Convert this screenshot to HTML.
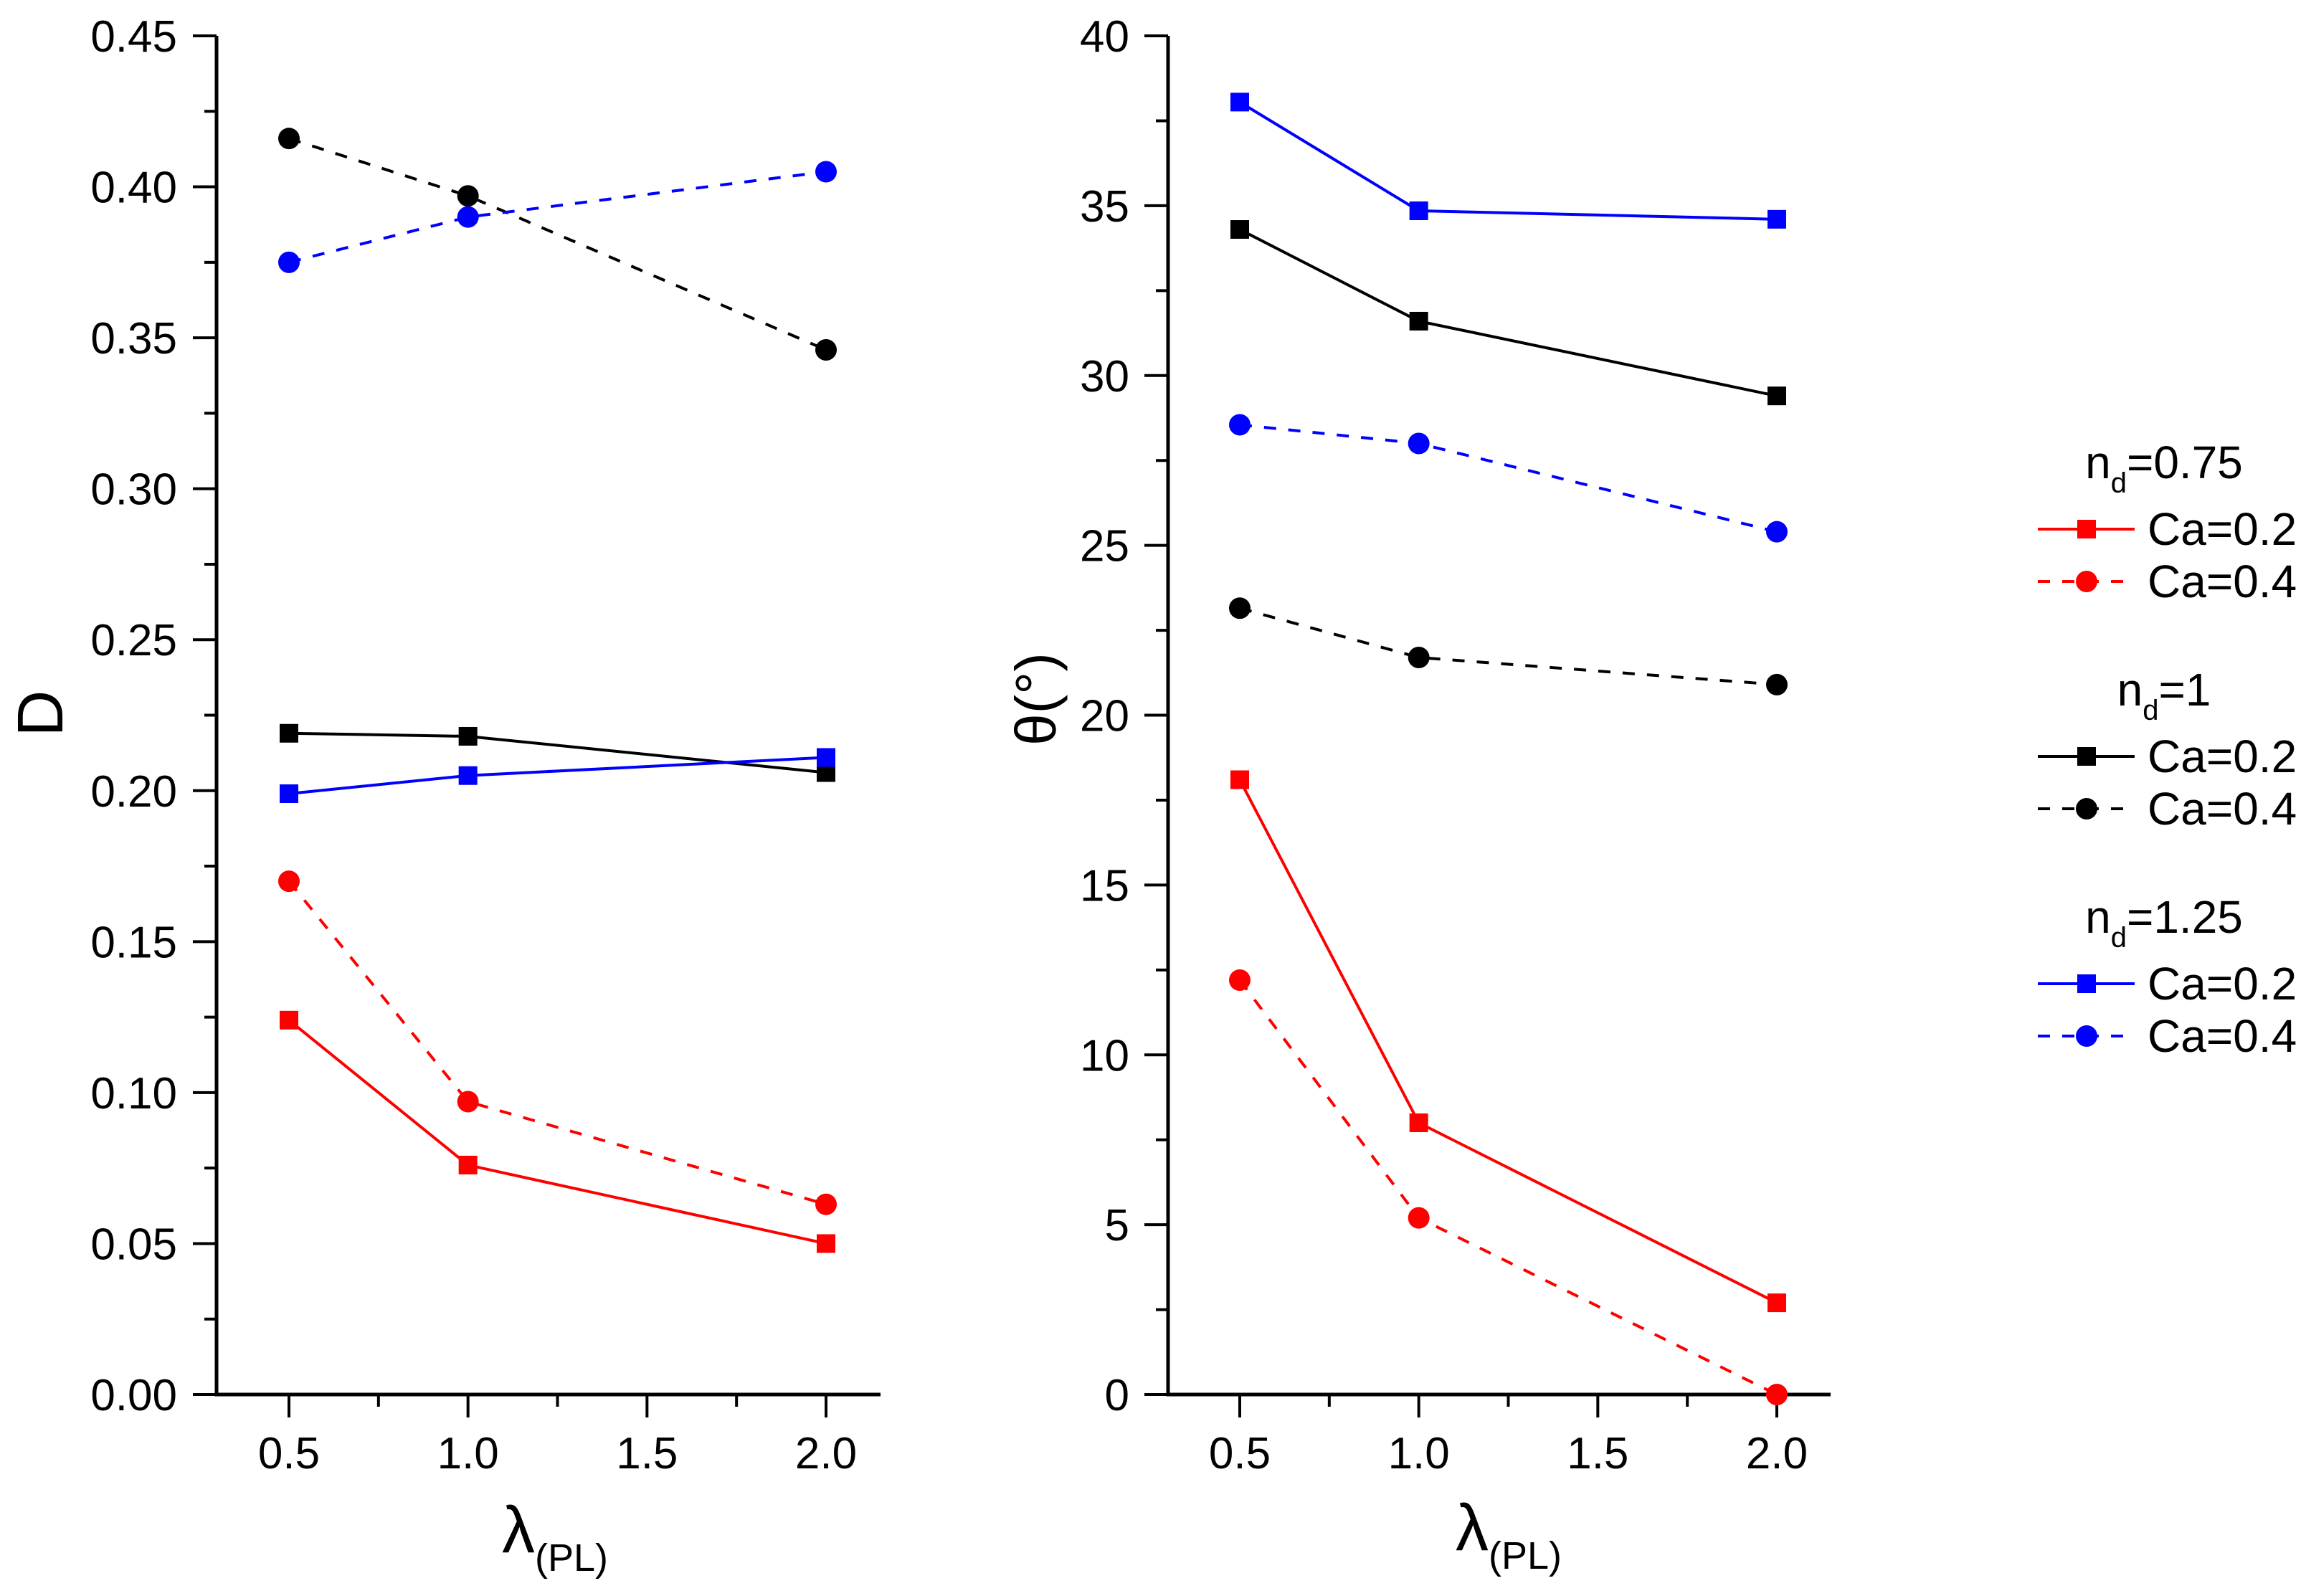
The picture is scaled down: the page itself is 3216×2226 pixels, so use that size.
<!DOCTYPE html>
<html><head><meta charset="utf-8"><style>
html,body{margin:0;padding:0;background:#fff;}
svg{display:block;font-family:"Liberation Sans",Arial,sans-serif;}
</style></head><body>
<svg id="chart" width="3216" height="2226" viewBox="0 0 3216 2226" xmlns="http://www.w3.org/2000/svg">
<rect width="3216" height="2226" fill="#fff"/>
<g id="left"></g>
<g id="right"></g>
<text transform="translate(87,995) rotate(-90)" text-anchor="middle" font-size="90">D</text>
<text transform="translate(1472,975) rotate(-90)" text-anchor="middle" font-size="80">θ(°)</text>
<text x="700" y="2165" font-size="92">λ<tspan font-size="54" dy="26">(PL)</tspan></text>
<text x="2030" y="2162" font-size="92">λ<tspan font-size="54" dy="26">(PL)</tspan></text>
<g id="legend"></g>
</svg>
<script>
const xCats=[0.5,1.0,2.0];
const xTicks=[0.5,1.0,1.5,2.0];
const xTickLabels=["0.5","1.0","1.5","2.0"];
const dTicks=[0,0.05,0.10,0.15,0.20,0.25,0.30,0.35,0.40,0.45];
const dTickLabels=["0.00","0.05","0.10","0.15","0.20","0.25","0.30","0.35","0.40","0.45"];
const tTicks=[0,5,10,15,20,25,30,35,40];
const tTickLabels=["0","5","10","15","20","25","30","35","40"];
// D values
const dRed02=[0.124,0.076,0.050];
const dRed04=[0.170,0.097,0.063];
const dBlack02=[0.219,0.218,0.206];
const dBlack04=[0.416,0.397,0.346];
const dBlue02=[0.199,0.205,0.211];
const dBlue04=[0.375,0.390,0.405];
// theta values
const tRed02=[18.1,8.0,2.7];
const tRed04=[12.2,5.2,0.0];
const tBlack02=[34.3,31.6,29.4];
const tBlack04=[23.15,21.7,20.9];
const tBlue02=[38.05,34.85,34.6];
const tBlue04=[28.55,28.0,25.4];

const NS="http://www.w3.org/2000/svg";
function mk(tag,attrs,parent){const e=document.createElementNS(NS,tag);for(const k in attrs)e.setAttribute(k,attrs[k]);parent.appendChild(e);return e;}

function panel(g,cfg){
  const X=v=>cfg.x0+(v-0.5)*(cfg.x2-cfg.x0)/1.5;
  const Y=v=>cfg.yb-(v-cfg.ymin)*(cfg.yb-cfg.yt)/(cfg.ymax-cfg.ymin);
  const ax=mk('path',{d:`M${cfg.ax},${cfg.yt} V${cfg.yb} H${cfg.axr}`,stroke:'#000','stroke-width':5,fill:'none'},g);
  
  
  xTicks.forEach((v,i)=>{
    const t=mk('line',{x1:X(v),x2:X(v),y1:cfg.yb,y2:cfg.yb+32,stroke:'#000','stroke-width':4},g);
    
    
    const l=mk('text',{x:X(v),y:2048,'text-anchor':'middle','font-size':62},g);
    l.textContent=xTickLabels[i];
    
    
    if(i<xTicks.length-1){
      const m=(v+xTicks[i+1])/2;
      const mt=mk('line',{x1:X(m),x2:X(m),y1:cfg.yb,y2:cfg.yb+17,stroke:'#000','stroke-width':4},g);
      
      
    }
  });
  cfg.ticks.forEach((v,i)=>{
    const t=mk('line',{x1:cfg.ax-33,x2:cfg.ax,y1:Y(v),y2:Y(v),stroke:'#000','stroke-width':4},g);
    
    
    const l=mk('text',{x:cfg.lx,y:Y(v)+22,'text-anchor':'end','font-size':62},g);
    l.textContent=cfg.labels[i];
    
    
    if(i<cfg.ticks.length-1){
      const m=(v+cfg.ticks[i+1])/2;
      const mt=mk('line',{x1:cfg.ax-17,x2:cfg.ax,y1:Y(m),y2:Y(m),stroke:'#000','stroke-width':4},g);
      
      
    }
  });
  cfg.series.forEach(s=>{
    const pts=xCats.map((c,i)=>[X(c),Y(s.v[i])]);
    const p=mk('polyline',{points:pts.map(p=>p.join(',')).join(' '),fill:'none',stroke:s.c,'stroke-width':4},g);
    if(s.dash)p.setAttribute('stroke-dasharray','17 17');
    
    
    pts.forEach(q=>{
      let m;
      if(s.sq) m=mk('rect',{x:q[0]-13,y:q[1]-13,width:26,height:26,fill:s.c},g);
      else m=mk('circle',{cx:q[0],cy:q[1],r:15,fill:s.c},g);
      
      
    });
  });
}
panel(document.getElementById('left'),{x0:403,x2:1152,ax:302,axr:1228,yt:50,yb:1945,ymin:0,ymax:0.45,ticks:dTicks,labels:dTickLabels,lx:247,
  series:[{v:dBlack04,c:'#000',dash:1,name:'nd1-ca04'},{v:dBlue04,c:'#0000ff',dash:1,name:'nd125-ca04'},
  {v:dBlack02,c:'#000',sq:1,name:'nd1-ca02'},{v:dBlue02,c:'#0000ff',sq:1,name:'nd125-ca02'},
  {v:dRed04,c:'#ff0000',dash:1,name:'nd075-ca04'},{v:dRed02,c:'#ff0000',sq:1,name:'nd075-ca02'}]});
panel(document.getElementById('right'),{x0:1729,x2:2478,ax:1629,axr:2553,yt:50,yb:1945,ymin:0,ymax:40,ticks:tTicks,labels:tTickLabels,lx:1575,
  series:[{v:tBlue02,c:'#0000ff',sq:1,name:'nd125-ca02'},{v:tBlack02,c:'#000',sq:1,name:'nd1-ca02'},
  {v:tBlue04,c:'#0000ff',dash:1,name:'nd125-ca04'},{v:tBlack04,c:'#000',dash:1,name:'nd1-ca04'},
  {v:tRed02,c:'#ff0000',sq:1,name:'nd075-ca02'},{v:tRed04,c:'#ff0000',dash:1,name:'nd075-ca04'}]});

const lg=document.getElementById('legend');
const groups=[{t:'0.75',c:'#ff0000'},{t:'1',c:'#000'},{t:'1.25',c:'#0000ff'}];
groups.forEach((gr,i)=>{
  const oy=i*317;
  const tt=mk('text',{x:3018,y:667+oy,'text-anchor':'middle','font-size':64},lg);
  tt.innerHTML='n<tspan font-size="40" dy="20">d</tspan><tspan dy="-20">='+gr.t+'</tspan>';
  
  
  [[0,'Ca=0.2',1],[73,'Ca=0.4',0]].forEach(r=>{
    const y=738+oy+r[0];
    const l=mk('line',{x1:2842,x2:2977,y1:y,y2:y,stroke:gr.c,'stroke-width':4},lg);
    if(!r[2])l.setAttribute('stroke-dasharray','17 17');
    
    
    let m;
    if(r[2]) m=mk('rect',{x:2897,y:y-13,width:26,height:26,fill:gr.c},lg);
    else m=mk('circle',{cx:2910,cy:y,r:15,fill:gr.c},lg);
    
    
    const tx=mk('text',{x:2995,y:y+22,'font-size':64},lg);
    tx.textContent=r[1];
    
    
  });
});
</script>
</body></html>
